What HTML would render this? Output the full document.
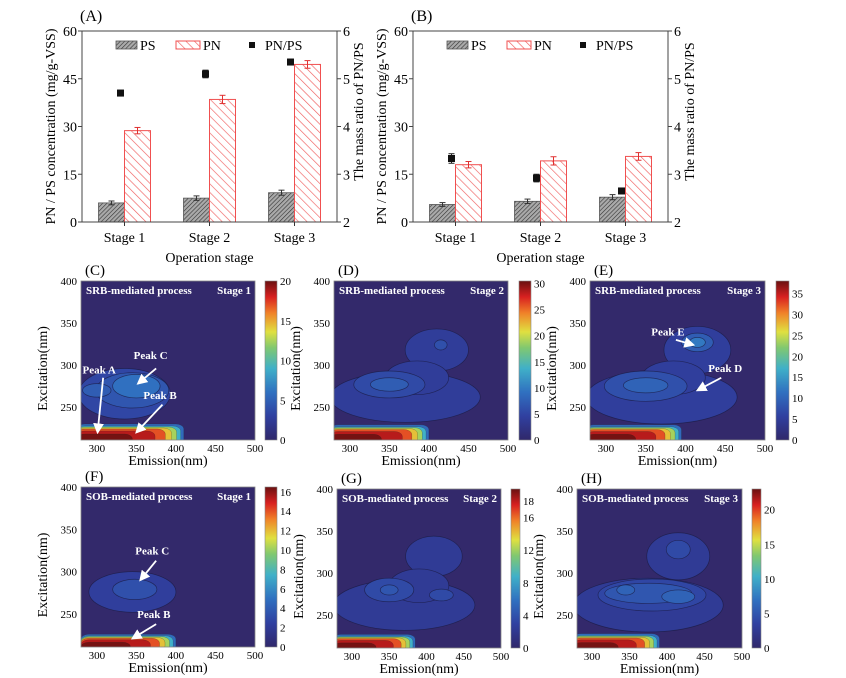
<!DOCTYPE html>
<html><head><meta charset="utf-8"><style>
html,body{margin:0;padding:0;background:#fff}
svg{display:block;font-family:"Liberation Serif",serif}
</style></head><body>
<svg id="fig" width="846" height="678" viewBox="0 0 846 678">
<defs>
<pattern id="hatchPS" patternUnits="userSpaceOnUse" width="3" height="3" patternTransform="rotate(45)">
<rect width="3" height="3" fill="#aaa"/><line x1="0" y1="0" x2="0" y2="3" stroke="#333" stroke-width="1.2"/></pattern>
<pattern id="hatchPN" patternUnits="userSpaceOnUse" width="6" height="6" patternTransform="rotate(-45)">
<rect width="6" height="6" fill="#fff"/><line x1="0" y1="0" x2="0" y2="6" stroke="#f06060" stroke-width="1.3"/></pattern>
<linearGradient id="jet" x1="0" y1="1" x2="0" y2="0">
<stop offset="0" stop-color="#30286a"/><stop offset="0.15" stop-color="#3040a0"/><stop offset="0.3" stop-color="#3070c0"/>
<stop offset="0.45" stop-color="#40b0c8"/><stop offset="0.58" stop-color="#80c870"/><stop offset="0.68" stop-color="#e0e040"/>
<stop offset="0.8" stop-color="#f08028"/><stop offset="0.9" stop-color="#d82020"/><stop offset="1" stop-color="#6a1010"/></linearGradient>
<marker id="arr" markerWidth="6" markerHeight="6" refX="5" refY="3" orient="auto"><path d="M0,0 L6,3 L0,6 Z" fill="#fff"/></marker>
</defs>
</svg>
<script>
// ---- Bar chart data ----
const categories = ["Stage 1","Stage 2","Stage 3"];
const psA = [6.0, 7.5, 9.2];
const pnA = [28.7, 38.5, 49.5];
const ratioA = [4.7, 5.1, 5.35];
const psB = [5.5, 6.5, 7.8];
const pnB = [18.0, 19.2, 20.6];
const ratioB = [3.33, 2.92, 2.65];
const psErr = [0.6, 0.7, 0.8];
const pnErr = [1.0, 1.3, 1.2];
const ratioErrA = [0.06, 0.08, 0.06];
const ratioErrB = [0.1, 0.08, 0.06];
const leftTicks = [0, 15, 30, 45, 60];
const rightTicks = [2, 3, 4, 5, 6];

// ---- EEM colorbar ticks ----
const cbTicksC = [0,5,10,15,20], cbMaxC = 20;
const cbTicksD = [0,5,10,15,20,25,30], cbMaxD = 30.5;
const cbTicksE = [0,5,10,15,20,25,30,35], cbMaxE = 38;
const cbTicksF = [0,2,4,6,8,10,12,14,16], cbMaxF = 16.5;
const cbLabG = [0,4,8,12,16,18], cbMaxG = 19.5;
const cbTicksH = [0,5,10,15,20], cbMaxH = 23;
const emTicks = [300,350,400,450,500];
const exTicks = [250,300,350,400];
// blobs: [emission, excitation, rxNm, ryNm, colorLevel 0..1]
const blobsC = [[335,266,58,30,0.17],[345,270,46,21,0.22],[350,275,30,14,0.3],[300,270,18,8,0.24]];
const blobsD = [[370,262,95,30,0.13],[410,318,40,25,0.13],[385,285,40,20,0.13],[350,277,45,16,0.18],[350,277,24,8,0.24],[415,324,8,6,0.2]];
const blobsE = [[370,262,95,32,0.14],[415,318,42,28,0.14],[385,285,40,20,0.14],[350,275,52,18,0.2],[350,276,28,9,0.26],[415,327,20,11,0.24],[415,327,10,6,0.32]];
const blobsF = [[345,276,55,24,0.14],[348,279,28,12,0.2]];
const blobsG = [[370,262,95,30,0.12],[410,320,38,24,0.12],[390,285,40,20,0.12],[350,280,33,14,0.18],[350,280,12,6,0.22],[420,274,16,7,0.18]];
const blobsH = [[375,262,100,32,0.12],[415,320,42,28,0.12],[380,274,72,19,0.17],[375,276,58,12,0.22],[345,280,12,6,0.26],[415,272,22,8,0.26],[415,328,16,11,0.18]];

const NS="http://www.w3.org/2000/svg";
const svg=document.getElementById('fig');
function el(tag,attrs,parent,text){const e=document.createElementNS(NS,tag);for(const k in attrs)e.setAttribute(k,attrs[k]);if(text!==undefined)e.textContent=text;(parent||svg).appendChild(e);return e;}

function barChart(px,py,w,h,ps,pn,ratio,ratioErr,letter,id){
  const g=el('g',{});  
  const yL=v=>py+h-v/60*h, yR=r=>py+h-(r-2)/4*h, xC=i=>px+w*(2*i+1)/6;
  const t=el('text',{x:px-2,y:py-10,'font-size':16},g,'('+letter+')');  
  categories.forEach((c,i)=>{
    const cx=xC(i),bw=26;
    const b1=el('rect',{x:cx-bw,y:yL(ps[i]),width:bw,height:yL(0)-yL(ps[i]),fill:'url(#hatchPS)',stroke:'#555','stroke-width':0.8},g);
     
    const b2=el('rect',{x:cx,y:yL(pn[i]),width:bw,height:yL(0)-yL(pn[i]),fill:'url(#hatchPN)',stroke:'#f05050','stroke-width':1},g);
     
    [[cx-bw/2,ps[i],psErr[i],'#333'],[cx+bw/2,pn[i],pnErr[i],'#e03030']].forEach(([x,v,e,c])=>{
      el('line',{x1:x,x2:x,y1:yL(v+e),y2:yL(v-e),stroke:c,'stroke-width':1},g);
      el('line',{x1:x-3,x2:x+3,y1:yL(v+e),y2:yL(v+e),stroke:c},g);
      el('line',{x1:x-3,x2:x+3,y1:yL(v-e),y2:yL(v-e),stroke:c},g);
    });
    const rx=cx-4; const ry=yR(ratio[i]);
    el('line',{x1:rx,x2:rx,y1:yR(ratio[i]+ratioErr[i]),y2:yR(ratio[i]-ratioErr[i]),stroke:'#222'},g);
    el('line',{x1:rx-3,x2:rx+3,y1:yR(ratio[i]+ratioErr[i]),y2:yR(ratio[i]+ratioErr[i]),stroke:'#222'},g);
    el('line',{x1:rx-3,x2:rx+3,y1:yR(ratio[i]-ratioErr[i]),y2:yR(ratio[i]-ratioErr[i]),stroke:'#222'},g);
    const m=el('rect',{x:rx-3.5,y:ry-3.5,width:7,height:7,fill:'#111'},g);  
    el('line',{x1:cx,x2:cx,y1:py+h,y2:py+h+4,stroke:'#333'},g);
    const tl=el('text',{x:cx,y:py+h+20,'font-size':14,'text-anchor':'middle'},g,c);  
  });
  const ax=el('rect',{x:px,y:py,width:w,height:h,fill:'none',stroke:'#444','stroke-width':1},g);  
  leftTicks.forEach(v=>{el('line',{x1:px-4,x2:px,y1:yL(v),y2:yL(v),stroke:'#444'},g);
    const tt=el('text',{x:px-5,y:yL(v)+5,'font-size':14,'text-anchor':'end'},g,v);  });
  rightTicks.forEach(v=>{el('line',{x1:px+w,x2:px+w+4,y1:yR(v),y2:yR(v),stroke:'#444'},g);
    const tt=el('text',{x:px+w+6,y:yR(v)+5,'font-size':14},g,v);  });
  const yl=el('text',{transform:`translate(${px-27},${py+h/2}) rotate(-90)`,'font-size':14,'text-anchor':'middle'},g,'PN / PS concentration (mg/g-VSS)');  
  const yr=el('text',{transform:`translate(${px+w+26},${py+h/2-15}) rotate(-90)`,'font-size':14,'text-anchor':'middle'},g,'The mass ratio of PN/PS');  
  const xl=el('text',{x:px+w/2,y:py+h+40,'font-size':14,'text-anchor':'middle'},g,'Operation stage');  
  const lg=el('g',{},g);  
  el('rect',{x:px+34,y:py+10,width:21,height:8,fill:'url(#hatchPS)',stroke:'#555','stroke-width':0.8},lg);
  el('text',{x:px+58,y:py+19,'font-size':14},lg,'PS');
  el('rect',{x:px+94,y:py+10,width:24,height:8,fill:'url(#hatchPN)',stroke:'#f05050'},lg);
  el('text',{x:px+121,y:py+19,'font-size':14},lg,'PN');
  el('rect',{x:px+167,y:py+11,width:6,height:6,fill:'#111'},lg);
  el('text',{x:px+183,y:py+19,'font-size':14},lg,'PN/PS');
}
barChart(82,31,255,191,psA,pnA,ratioA,ratioErrA,'A','a');
barChart(413,31,255,191,psB,pnB,ratioB,ratioErrB,'B','b');

function jetColor(t){const s=[[0,[48,40,106]],[0.15,[48,64,160]],[0.3,[48,112,192]],[0.45,[64,176,200]],[0.58,[128,200,112]],[0.68,[224,224,64]],[0.8,[240,128,40]],[0.9,[216,32,32]],[1,[106,16,16]]];
  for(let i=1;i<s.length;i++){if(t<=s[i][0]){const a=s[i-1],b=s[i],f=(t-a[0])/(b[0]-a[0]);return 'rgb('+a[1].map((v,k)=>Math.round(v+(b[1][k]-v)*f)).join(',')+')';}}return 'rgb(106,16,16)';}

function eem(id,letter,px,py,w,h,cbx,cbw,blobs,ticks,max,title,stage,hot){
  const g=el('g',{});  
  const X=e=>px+(e-280)/220*w, Y=x=>py+h-(x-211)/189*h;
  const cp=el('clipPath',{id:'clip'+id},g); el('rect',{x:px,y:py,width:w,height:h},cp);
  const pl=el('g',{'clip-path':`url(#clip${id})`},g);
  el('rect',{x:px,y:py,width:w,height:h,fill:'#33296b'},pl);
  blobs.forEach((b,i)=>{const e=el('ellipse',{cx:X(b[0]),cy:Y(b[1]),rx:b[2]/220*w,ry:b[3]/189*h,fill:jetColor(b[4]),stroke:'#1a1a40','stroke-width':0.7,'stroke-opacity':0.7},pl);
     });
  // hot band along bottom edge
  const [e0,e1,lv]=hot;
  const lev=[[1.0,0.28,16],[0.97,0.45,14],[0.93,0.62,13],[0.88,0.72,12],[0.82,0.85,11],[0.72,0.93,9],[0.5,0.99,6]];
  lev.forEach(([s,c,hh])=>{const x0=X(e0)-4;const wd=(X(e1)-X(e0))*s+4;
    const r=el('rect',{x:x0,y:py+h-hh*lv,width:wd,height:hh*lv+4,rx:8,ry:5,fill:jetColor(c),stroke:'#222','stroke-width':0.4,'stroke-opacity':0.5},pl);
     });
  el('rect',{x:px,y:py,width:w,height:h,fill:'none',stroke:'#888','stroke-width':0.8},g);
  const tt=el('text',{x:px+5,y:py+13,'font-size':11,'font-weight':'bold',fill:'#fff'},g,title);  
  const st=el('text',{x:px+w-4,y:py+13,'font-size':11,'font-weight':'bold',fill:'#fff','text-anchor':'end'},g,stage);  
  emTicks.forEach(v=>{const t=el('text',{x:X(v),y:py+h+12,'font-size':11,'text-anchor':'middle'},g,v);  });
  exTicks.forEach(v=>{const t=el('text',{x:px-4,y:Y(v)+4,'font-size':11,'text-anchor':'end'},g,v);  });
  const xl=el('text',{x:px+w/2,y:py+h+25,'font-size':14,'text-anchor':'middle'},g,'Emission(nm)');  
  const yl=el('text',{transform:`translate(${px-34},${py+h/2+8}) rotate(-90)`,'font-size':14,'text-anchor':'middle'},g,'Excitation(nm)');  
  const lt=el('text',{x:px+4,y:py-6,'font-size':15},g,'('+letter+')');  
  const cb=el('rect',{x:cbx,y:py,width:cbw,height:h,fill:'url(#jet)',stroke:'#888','stroke-width':0.6},g);  
  ticks.forEach(v=>{const y=py+h-v/max*h;const t=el('text',{x:cbx+cbw+3,y:y+4,'font-size':11},g,v);  });
  return {X,Y,g};
}
function arrow(p,label,lx,ly,e1,x1,e2,x2){
  const a=el('line',{x1:p.X(e1),y1:p.Y(x1),x2:p.X(e2),y2:p.Y(x2),stroke:'#fff','stroke-width':1.8,'marker-end':'url(#arr)'},p.g);
   
  const t=el('text',{x:p.X(lx),y:p.Y(ly),'font-size':11,'font-weight':'bold',fill:'#fff','text-anchor':'middle'},p.g,label);
   
}
const pC=eem('c','C',81,281,174,159,265,12,blobsC,cbTicksC,cbMaxC,'SRB-mediated process','Stage 1',[280,410,1]);
arrow(pC,'Peak A',303,290,308,285,301,220);
arrow(pC,'Peak C',368,307,375,296,352,278);
arrow(pC,'Peak B',380,260,383,253,350,220);
eem('d','D',334,281,174,159,519,12,blobsD,cbTicksD,cbMaxD,'SRB-mediated process','Stage 2',[280,400,0.95]);
const pE=eem('e','E',590,281,175,159,776,13,blobsE,cbTicksE,cbMaxE,'SRB-mediated process','Stage 3',[280,395,0.95]);
arrow(pE,'Peak E',378,335,388,330,410,324);
arrow(pE,'Peak D',450,292,445,285,415,270);
const pF=eem('f','F',81,487,174,160,265,12,blobsF,cbTicksF,cbMaxF,'SOB-mediated process','Stage 1',[285,400,0.8]);
arrow(pF,'Peak C',370,320,375,313,355,290);
arrow(pF,'Peak B',372,245,375,238,345,221);
eem('g','G',337,489,164,159,511,9,blobsG,cbLabG,cbMaxG,'SOB-mediated process','Stage 2',[280,385,0.85]);
eem('h','H',577,489,165,159,752,9,blobsH,cbTicksH,cbMaxH,'SOB-mediated process','Stage 3',[280,390,0.9]);
</script>
</body></html>
